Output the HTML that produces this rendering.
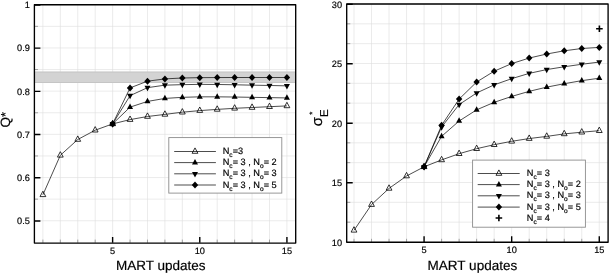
<!DOCTYPE html>
<html lang="en"><head><meta charset="utf-8"><title>MART updates</title>
<style>html,body{margin:0;padding:0;background:#fff}svg{display:block}text{text-rendering:geometricPrecision;stroke:#000;stroke-width:0.18px;font-family:'Liberation Sans', sans-serif;fill:#000}</style>
</head><body>
<svg width="609" height="273" viewBox="0 0 609 273">
<rect width="609" height="273" fill="#fff"/>
<path d="M42.9 4.75V242.8M60.33 4.75V242.8M77.76 4.75V242.8M95.19 4.75V242.8M112.62 4.75V242.8M130.05 4.75V242.8M147.48 4.75V242.8M164.91 4.75V242.8M182.34 4.75V242.8M199.77 4.75V242.8M217.2 4.75V242.8M234.63 4.75V242.8M252.06 4.75V242.8M269.49 4.75V242.8M286.92 4.75V242.8M34.4 4.75H295.7M34.4 26.35H295.7M34.4 47.95H295.7M34.4 69.55H295.7M34.4 91.15H295.7M34.4 112.75H295.7M34.4 134.35H295.7M34.4 155.95H295.7M34.4 177.55H295.7M34.4 199.15H295.7M34.4 220.75H295.7" stroke="#dedede" stroke-width="0.6" fill="none"/>
<rect x="35" y="71.6" width="260.1" height="11.4" fill="#d3d3d3"/>
<path d="M35 72.1H295.1M35 82.5H295.1" stroke="#c2c2c2" stroke-width="0.8" fill="none"/>
<path d="M42.9 242.8V239.6M60.33 242.8V239.6M77.76 242.8V239.6M95.19 242.8V239.6M130.05 242.8V239.6M147.48 242.8V239.6M164.91 242.8V239.6M182.34 242.8V239.6M217.2 242.8V239.6M234.63 242.8V239.6M252.06 242.8V239.6M269.49 242.8V239.6M34.4 26.35H38M34.4 69.55H38M34.4 112.75H38M34.4 155.95H38M34.4 199.15H38" stroke="#999" stroke-width="0.9" fill="none"/>
<path d="M112.62 242.8V237M199.77 242.8V237M286.92 242.8V237M34.4 4.95H40.4M34.4 48.15H40.4M34.4 91.35H40.4M34.4 134.55H40.4M34.4 177.75H40.4M34.4 220.95H40.4" stroke="#000" stroke-width="1.4" fill="none"/>
<path d="M40 196.6L45.8 196.6L42.9 191.2Z" fill="#fff" stroke="#000" stroke-width="0.8"/>
<path d="M57.43 157.1L63.23 157.1L60.33 151.7Z" fill="#fff" stroke="#000" stroke-width="0.8"/>
<path d="M74.86 141.3L80.66 141.3L77.76 135.9Z" fill="#fff" stroke="#000" stroke-width="0.8"/>
<path d="M92.29 132L98.09 132L95.19 126.6Z" fill="#fff" stroke="#000" stroke-width="0.8"/>
<path d="M109.72 125.7L115.52 125.7L112.62 120.3Z" fill="#fff" stroke="#000" stroke-width="0.8"/>
<path d="M127.15 121.4L132.95 121.4L130.05 116Z" fill="#fff" stroke="#000" stroke-width="0.8"/>
<path d="M144.58 118.3L150.38 118.3L147.48 112.9Z" fill="#fff" stroke="#000" stroke-width="0.8"/>
<path d="M162.01 116.2L167.81 116.2L164.91 110.8Z" fill="#fff" stroke="#000" stroke-width="0.8"/>
<path d="M179.44 114L185.24 114L182.34 108.6Z" fill="#fff" stroke="#000" stroke-width="0.8"/>
<path d="M196.87 112.4L202.67 112.4L199.77 107Z" fill="#fff" stroke="#000" stroke-width="0.8"/>
<path d="M214.3 111.2L220.1 111.2L217.2 105.8Z" fill="#fff" stroke="#000" stroke-width="0.8"/>
<path d="M231.73 110.1L237.53 110.1L234.63 104.7Z" fill="#fff" stroke="#000" stroke-width="0.8"/>
<path d="M249.16 109.3L254.96 109.3L252.06 103.9Z" fill="#fff" stroke="#000" stroke-width="0.8"/>
<path d="M266.59 108.5L272.39 108.5L269.49 103.1Z" fill="#fff" stroke="#000" stroke-width="0.8"/>
<path d="M284.02 107.7L289.82 107.7L286.92 102.3Z" fill="#fff" stroke="#000" stroke-width="0.8"/>
<polyline points="42.9,194.8 60.33,155.3 77.76,139.5 95.19,130.2 112.62,123.9 130.05,119.6 147.48,116.5 164.91,114.4 182.34,112.2 199.77,110.6 217.2,109.4 234.63,108.3 252.06,107.5 269.49,106.7 286.92,105.9" fill="none" stroke="#000" stroke-width="0.7"/>
<polyline points="112.62,123.9 130.05,107.13 147.48,101.43 164.91,98.43 182.34,97.33 199.77,96.83 217.2,96.83 234.63,97.03 252.06,97.33 269.49,97.63 286.92,97.93" fill="none" stroke="#000" stroke-width="0.7"/>
<path d="M109.62 125.73L115.62 125.73L112.62 120.23Z" fill="#000"/>
<path d="M127.05 108.96L133.05 108.96L130.05 103.46Z" fill="#000"/>
<path d="M144.48 103.26L150.48 103.26L147.48 97.76Z" fill="#000"/>
<path d="M161.91 100.26L167.91 100.26L164.91 94.76Z" fill="#000"/>
<path d="M179.34 99.16L185.34 99.16L182.34 93.66Z" fill="#000"/>
<path d="M196.77 98.66L202.77 98.66L199.77 93.16Z" fill="#000"/>
<path d="M214.2 98.66L220.2 98.66L217.2 93.16Z" fill="#000"/>
<path d="M231.63 98.86L237.63 98.86L234.63 93.36Z" fill="#000"/>
<path d="M249.06 99.16L255.06 99.16L252.06 93.66Z" fill="#000"/>
<path d="M266.49 99.46L272.49 99.46L269.49 93.96Z" fill="#000"/>
<path d="M283.92 99.76L289.92 99.76L286.92 94.26Z" fill="#000"/>
<polyline points="112.62,123.9 130.05,95.67 147.48,87.67 164.91,85.17 182.34,84.67 199.77,84.37 217.2,84.47 234.63,84.77 252.06,85.17 269.49,85.47 286.92,85.87" fill="none" stroke="#000" stroke-width="0.7"/>
<path d="M109.62 122.07L115.62 122.07L112.62 127.57Z" fill="#000"/>
<path d="M127.05 93.84L133.05 93.84L130.05 99.34Z" fill="#000"/>
<path d="M144.48 85.84L150.48 85.84L147.48 91.34Z" fill="#000"/>
<path d="M161.91 83.34L167.91 83.34L164.91 88.84Z" fill="#000"/>
<path d="M179.34 82.84L185.34 82.84L182.34 88.34Z" fill="#000"/>
<path d="M196.77 82.54L202.77 82.54L199.77 88.04Z" fill="#000"/>
<path d="M214.2 82.64L220.2 82.64L217.2 88.14Z" fill="#000"/>
<path d="M231.63 82.94L237.63 82.94L234.63 88.44Z" fill="#000"/>
<path d="M249.06 83.34L255.06 83.34L252.06 88.84Z" fill="#000"/>
<path d="M266.49 83.64L272.49 83.64L269.49 89.14Z" fill="#000"/>
<path d="M283.92 84.04L289.92 84.04L286.92 89.54Z" fill="#000"/>
<polyline points="112.62,123.9 130.05,87.9 147.48,81.2 164.91,78.9 182.34,78 199.77,77.65 217.2,77.55 234.63,77.5 252.06,77.5 269.49,77.5 286.92,77.5" fill="none" stroke="#000" stroke-width="0.7"/>
<path d="M109.42 123.9L112.62 120.4L115.82 123.9L112.62 127.4Z" fill="#000"/>
<path d="M126.85 87.9L130.05 84.4L133.25 87.9L130.05 91.4Z" fill="#000"/>
<path d="M144.28 81.2L147.48 77.7L150.68 81.2L147.48 84.7Z" fill="#000"/>
<path d="M161.71 78.9L164.91 75.4L168.11 78.9L164.91 82.4Z" fill="#000"/>
<path d="M179.14 78L182.34 74.5L185.54 78L182.34 81.5Z" fill="#000"/>
<path d="M196.57 77.65L199.77 74.15L202.97 77.65L199.77 81.15Z" fill="#000"/>
<path d="M214 77.55L217.2 74.05L220.4 77.55L217.2 81.05Z" fill="#000"/>
<path d="M231.43 77.5L234.63 74L237.83 77.5L234.63 81Z" fill="#000"/>
<path d="M248.86 77.5L252.06 74L255.26 77.5L252.06 81Z" fill="#000"/>
<path d="M266.29 77.5L269.49 74L272.69 77.5L269.49 81Z" fill="#000"/>
<path d="M283.72 77.5L286.92 74L290.12 77.5L286.92 81Z" fill="#000"/>
<rect x="34.4" y="4.75" width="261.3" height="238.35" fill="none" stroke="#000" stroke-width="1.35" stroke-linejoin="round"/>
<text x="29.8" y="8.25" text-anchor="end" font-size="9.2">1</text>
<text x="29.8" y="51.45" text-anchor="end" font-size="9.2">0.9</text>
<text x="29.8" y="94.65" text-anchor="end" font-size="9.2">0.8</text>
<text x="29.8" y="137.85" text-anchor="end" font-size="9.2">0.7</text>
<text x="29.8" y="181.05" text-anchor="end" font-size="9.2">0.6</text>
<text x="29.8" y="224.25" text-anchor="end" font-size="9.2">0.5</text>
<text x="112.62" y="253.6" text-anchor="middle" font-size="9.2">5</text>
<text x="199.77" y="253.6" text-anchor="middle" font-size="9.2">10</text>
<text x="286.92" y="253.6" text-anchor="middle" font-size="9.2">15</text>
<rect x="168.8" y="137.6" width="113" height="55.5" fill="#fff" stroke="#8c8c8c" stroke-width="0.9"/>
<path d="M192.1 153.3L197.9 153.3L195 147.9Z" fill="#fff" stroke="#000" stroke-width="0.8"/>
<path d="M174.2 151.5H215.9" stroke="#000" stroke-width="0.7" fill="none"/>
<text x="222.7" y="154.1" font-size="9.2">N<tspan dy="3" font-size="6.6">c</tspan><tspan dy="-3">=3</tspan></text>
<path d="M174.2 162.6H215.9" stroke="#000" stroke-width="0.7" fill="none"/>
<path d="M192 164.43L198 164.43L195 158.93Z" fill="#000"/>
<text x="222.7" y="165.2" font-size="9.2">N<tspan dy="3" font-size="6.6">c</tspan><tspan dy="-3">= 3 , N</tspan><tspan dy="3" font-size="6.6">o</tspan><tspan dy="-3">= 2</tspan></text>
<path d="M174.2 173.8H215.9" stroke="#000" stroke-width="0.7" fill="none"/>
<path d="M192 171.97L198 171.97L195 177.47Z" fill="#000"/>
<text x="222.7" y="176.4" font-size="9.2">N<tspan dy="3" font-size="6.6">c</tspan><tspan dy="-3">= 3 , N</tspan><tspan dy="3" font-size="6.6">o</tspan><tspan dy="-3">= 3</tspan></text>
<path d="M174.2 185H215.9" stroke="#000" stroke-width="0.7" fill="none"/>
<path d="M191.8 185L195 181.5L198.2 185L195 188.5Z" fill="#000"/>
<text x="222.7" y="187.6" font-size="9.2">N<tspan dy="3" font-size="6.6">c</tspan><tspan dy="-3">= 3 , N</tspan><tspan dy="3" font-size="6.6">o</tspan><tspan dy="-3">= 5</tspan></text>
<text x="160.7" y="269.8" text-anchor="middle" font-size="13.5">MART updates</text>
<text transform="translate(10.3 127.5) rotate(-90)" font-size="13.5">Q<tspan dy="-0.2" font-size="13">*</tspan></text>
<path d="M354 4V242M371.52 4V242M389.04 4V242M406.56 4V242M424.08 4V242M441.6 4V242M459.12 4V242M476.64 4V242M494.16 4V242M511.68 4V242M529.2 4V242M546.72 4V242M564.24 4V242M581.76 4V242M599.28 4V242M346.7 4H608.1M346.7 23.83H608.1M346.7 43.67H608.1M346.7 63.5H608.1M346.7 83.33H608.1M346.7 103.16H608.1M346.7 123H608.1M346.7 142.83H608.1M346.7 162.66H608.1M346.7 182.5H608.1M346.7 202.33H608.1M346.7 222.16H608.1" stroke="#dedede" stroke-width="0.6" fill="none"/>
<path d="M354 242V238.8M371.52 242V238.8M389.04 242V238.8M406.56 242V238.8M441.6 242V238.8M459.12 242V238.8M476.64 242V238.8M494.16 242V238.8M529.2 242V238.8M546.72 242V238.8M564.24 242V238.8M581.76 242V238.8M346.7 23.83H350.3M346.7 43.67H350.3M346.7 83.33H350.3M346.7 103.16H350.3M346.7 142.83H350.3M346.7 162.66H350.3M346.7 202.33H350.3M346.7 222.16H350.3" stroke="#999" stroke-width="0.9" fill="none"/>
<path d="M424.08 242V236.2M511.68 242V236.2M599.28 242V236.2M346.7 4.2H352.7M346.7 63.7H352.7M346.7 123.2H352.7M346.7 182.7H352.7" stroke="#000" stroke-width="1.4" fill="none"/>
<path d="M351.1 232.1L356.9 232.1L354 226.7Z" fill="#fff" stroke="#000" stroke-width="0.8"/>
<path d="M368.62 206.4L374.42 206.4L371.52 201Z" fill="#fff" stroke="#000" stroke-width="0.8"/>
<path d="M386.14 190.2L391.94 190.2L389.04 184.8Z" fill="#fff" stroke="#000" stroke-width="0.8"/>
<path d="M403.66 177.8L409.46 177.8L406.56 172.4Z" fill="#fff" stroke="#000" stroke-width="0.8"/>
<path d="M421.18 168.6L426.98 168.6L424.08 163.2Z" fill="#fff" stroke="#000" stroke-width="0.8"/>
<path d="M438.7 161.7L444.5 161.7L441.6 156.3Z" fill="#fff" stroke="#000" stroke-width="0.8"/>
<path d="M456.22 155.5L462.02 155.5L459.12 150.1Z" fill="#fff" stroke="#000" stroke-width="0.8"/>
<path d="M473.74 150.5L479.54 150.5L476.64 145.1Z" fill="#fff" stroke="#000" stroke-width="0.8"/>
<path d="M491.26 146.5L497.06 146.5L494.16 141.1Z" fill="#fff" stroke="#000" stroke-width="0.8"/>
<path d="M508.78 143.1L514.58 143.1L511.68 137.7Z" fill="#fff" stroke="#000" stroke-width="0.8"/>
<path d="M526.3 140.35L532.1 140.35L529.2 134.95Z" fill="#fff" stroke="#000" stroke-width="0.8"/>
<path d="M543.82 138.2L549.62 138.2L546.72 132.8Z" fill="#fff" stroke="#000" stroke-width="0.8"/>
<path d="M561.34 135.7L567.14 135.7L564.24 130.3Z" fill="#fff" stroke="#000" stroke-width="0.8"/>
<path d="M578.86 134L584.66 134L581.76 128.6Z" fill="#fff" stroke="#000" stroke-width="0.8"/>
<path d="M596.38 132.5L602.18 132.5L599.28 127.1Z" fill="#fff" stroke="#000" stroke-width="0.8"/>
<polyline points="354,230.3 371.52,204.6 389.04,188.4 406.56,176 424.08,166.8 441.6,159.9 459.12,153.7 476.64,148.7 494.16,144.7 511.68,141.3 529.2,138.55 546.72,136.4 564.24,133.9 581.76,132.2 599.28,130.7" fill="none" stroke="#000" stroke-width="0.7"/>
<polyline points="424.08,166.8 441.6,136.33 459.12,121.03 476.64,109.83 494.16,102.33 511.68,96.43 529.2,91.33 546.72,87.13 564.24,83.73 581.76,80.63 599.28,78.23" fill="none" stroke="#000" stroke-width="0.7"/>
<path d="M421.08 168.63L427.08 168.63L424.08 163.13Z" fill="#000"/>
<path d="M438.6 138.16L444.6 138.16L441.6 132.66Z" fill="#000"/>
<path d="M456.12 122.86L462.12 122.86L459.12 117.36Z" fill="#000"/>
<path d="M473.64 111.66L479.64 111.66L476.64 106.16Z" fill="#000"/>
<path d="M491.16 104.16L497.16 104.16L494.16 98.66Z" fill="#000"/>
<path d="M508.68 98.26L514.68 98.26L511.68 92.76Z" fill="#000"/>
<path d="M526.2 93.16L532.2 93.16L529.2 87.66Z" fill="#000"/>
<path d="M543.72 88.96L549.72 88.96L546.72 83.46Z" fill="#000"/>
<path d="M561.24 85.56L567.24 85.56L564.24 80.06Z" fill="#000"/>
<path d="M578.76 82.46L584.76 82.46L581.76 76.96Z" fill="#000"/>
<path d="M596.28 80.06L602.28 80.06L599.28 74.56Z" fill="#000"/>
<polyline points="424.08,166.8 441.6,126.97 459.12,104.57 476.64,92.97 494.16,84.87 511.68,78.67 529.2,73.37 546.72,69.57 564.24,66.77 581.76,64.27 599.28,62.07" fill="none" stroke="#000" stroke-width="0.7"/>
<path d="M421.08 164.97L427.08 164.97L424.08 170.47Z" fill="#000"/>
<path d="M438.6 125.14L444.6 125.14L441.6 130.64Z" fill="#000"/>
<path d="M456.12 102.74L462.12 102.74L459.12 108.24Z" fill="#000"/>
<path d="M473.64 91.14L479.64 91.14L476.64 96.64Z" fill="#000"/>
<path d="M491.16 83.04L497.16 83.04L494.16 88.54Z" fill="#000"/>
<path d="M508.68 76.84L514.68 76.84L511.68 82.34Z" fill="#000"/>
<path d="M526.2 71.54L532.2 71.54L529.2 77.04Z" fill="#000"/>
<path d="M543.72 67.74L549.72 67.74L546.72 73.24Z" fill="#000"/>
<path d="M561.24 64.94L567.24 64.94L564.24 70.44Z" fill="#000"/>
<path d="M578.76 62.44L584.76 62.44L581.76 67.94Z" fill="#000"/>
<path d="M596.28 60.24L602.28 60.24L599.28 65.74Z" fill="#000"/>
<polyline points="424.08,166.8 441.6,125.3 459.12,99.1 476.64,82 494.16,71.2 511.68,63.6 529.2,58.05 546.72,54 564.24,50.8 581.76,48.5 599.28,47.4" fill="none" stroke="#000" stroke-width="0.7"/>
<path d="M420.88 166.8L424.08 163.3L427.28 166.8L424.08 170.3Z" fill="#000"/>
<path d="M438.4 125.3L441.6 121.8L444.8 125.3L441.6 128.8Z" fill="#000"/>
<path d="M455.92 99.1L459.12 95.6L462.32 99.1L459.12 102.6Z" fill="#000"/>
<path d="M473.44 82L476.64 78.5L479.84 82L476.64 85.5Z" fill="#000"/>
<path d="M490.96 71.2L494.16 67.7L497.36 71.2L494.16 74.7Z" fill="#000"/>
<path d="M508.48 63.6L511.68 60.1L514.88 63.6L511.68 67.1Z" fill="#000"/>
<path d="M526 58.05L529.2 54.55L532.4 58.05L529.2 61.55Z" fill="#000"/>
<path d="M543.52 54L546.72 50.5L549.92 54L546.72 57.5Z" fill="#000"/>
<path d="M561.04 50.8L564.24 47.3L567.44 50.8L564.24 54.3Z" fill="#000"/>
<path d="M578.56 48.5L581.76 45L584.96 48.5L581.76 52Z" fill="#000"/>
<path d="M596.08 47.4L599.28 43.9L602.48 47.4L599.28 50.9Z" fill="#000"/>
<path d="M596.1 28.8H602.7M599.4 25.5V32.1" stroke="#000" stroke-width="1.6" fill="none"/>
<rect x="346.7" y="4" width="261.4" height="238.25" fill="none" stroke="#000" stroke-width="1.35" stroke-linejoin="round"/>
<text x="342.1" y="7.5" text-anchor="end" font-size="9.2">30</text>
<text x="342.1" y="67" text-anchor="end" font-size="9.2">25</text>
<text x="342.1" y="126.5" text-anchor="end" font-size="9.2">20</text>
<text x="342.1" y="186" text-anchor="end" font-size="9.2">15</text>
<text x="342.1" y="245.5" text-anchor="end" font-size="9.2">10</text>
<text x="424.08" y="252.8" text-anchor="middle" font-size="9.2">5</text>
<text x="511.68" y="252.8" text-anchor="middle" font-size="9.2">10</text>
<text x="599.28" y="252.8" text-anchor="middle" font-size="9.2">15</text>
<rect x="472.6" y="160.1" width="112.8" height="67.1" fill="#fff" stroke="#8c8c8c" stroke-width="0.9"/>
<path d="M496 175.3L501.8 175.3L498.9 169.9Z" fill="#fff" stroke="#000" stroke-width="0.8"/>
<path d="M477.7 173.5H519.7" stroke="#000" stroke-width="0.7" fill="none"/>
<text x="526.8" y="176.1" font-size="9.2">N<tspan dy="3" font-size="6.6">c</tspan><tspan dy="-3">= 3</tspan></text>
<path d="M477.7 184.6H519.7" stroke="#000" stroke-width="0.7" fill="none"/>
<path d="M495.9 186.43L501.9 186.43L498.9 180.93Z" fill="#000"/>
<text x="526.8" y="187.2" font-size="9.2">N<tspan dy="3" font-size="6.6">c</tspan><tspan dy="-3">= 3 , N</tspan><tspan dy="3" font-size="6.6">o</tspan><tspan dy="-3">= 2</tspan></text>
<path d="M477.7 195.8H519.7" stroke="#000" stroke-width="0.7" fill="none"/>
<path d="M495.9 193.97L501.9 193.97L498.9 199.47Z" fill="#000"/>
<text x="526.8" y="198.4" font-size="9.2">N<tspan dy="3" font-size="6.6">c</tspan><tspan dy="-3">= 3 , N</tspan><tspan dy="3" font-size="6.6">o</tspan><tspan dy="-3">= 3</tspan></text>
<path d="M477.7 207.1H519.7" stroke="#000" stroke-width="0.7" fill="none"/>
<path d="M495.7 207.1L498.9 203.6L502.1 207.1L498.9 210.6Z" fill="#000"/>
<text x="526.8" y="209.7" font-size="9.2">N<tspan dy="3" font-size="6.6">c</tspan><tspan dy="-3">= 3 , N</tspan><tspan dy="3" font-size="6.6">o</tspan><tspan dy="-3">= 5</tspan></text>
<path d="M495.6 218H502.2M498.9 214.7V221.3" stroke="#000" stroke-width="1.6" fill="none"/>
<text x="526.8" y="220.6" font-size="9.2">N<tspan dy="3" font-size="6.6">c</tspan><tspan dy="-3">= 4</tspan></text>
<text x="472.4" y="269.8" text-anchor="middle" font-size="13.5">MART updates</text>
<text transform="translate(322.3 126.2) rotate(-90)" font-size="15">σ<tspan dy="6" font-size="11.5">E</tspan></text>
<text transform="translate(314.6 114.8) rotate(-90)" font-size="8">*</text>
</svg>
</body></html>
